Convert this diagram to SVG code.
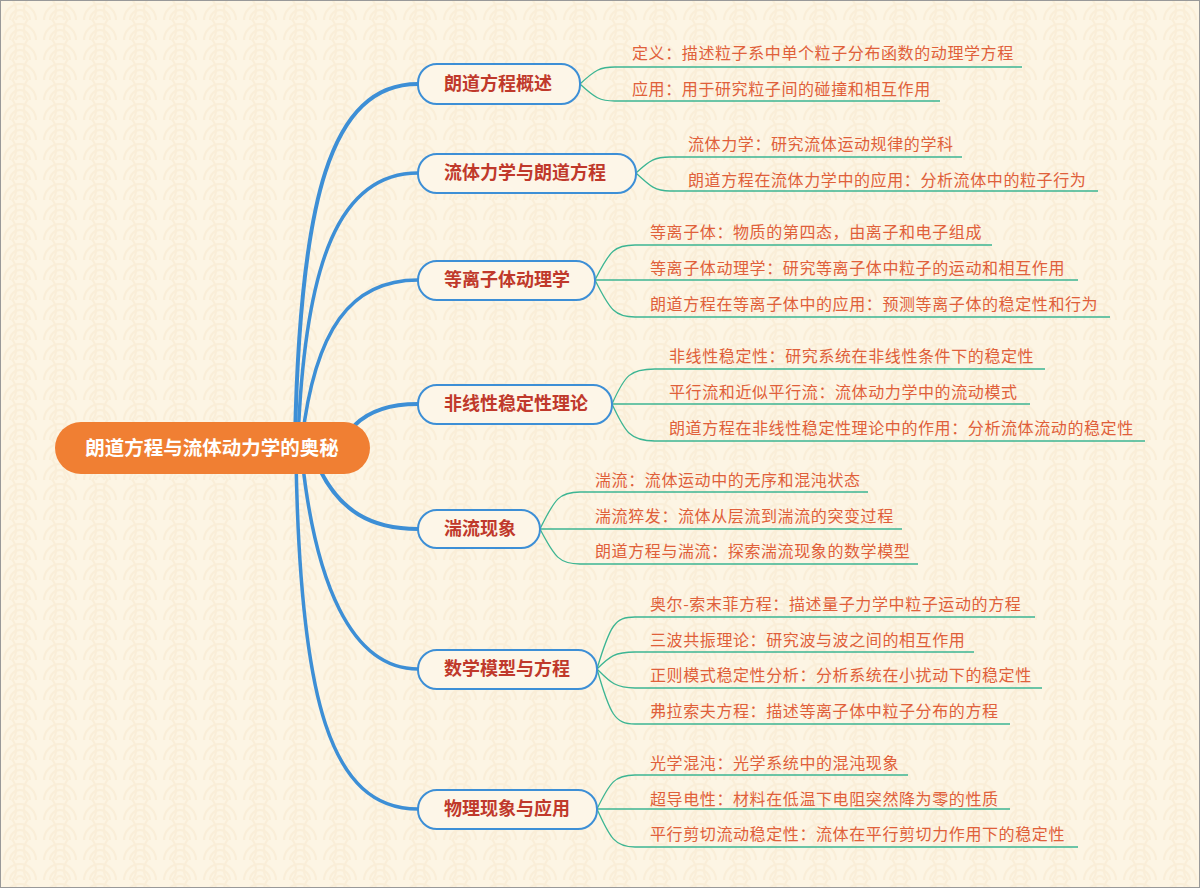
<svg xmlns="http://www.w3.org/2000/svg" width="1200" height="888" viewBox="0 0 1200 888">
<defs>
<pattern id="wave" width="40" height="20" patternUnits="userSpaceOnUse">
<rect width="40" height="20" fill="#fdf5e4"/>
<g fill="none" stroke="#faeed8" stroke-width="2">
<circle cx="20" cy="20" r="16"/><circle cx="20" cy="20" r="10"/><circle cx="20" cy="20" r="4"/>
<circle cx="0" cy="10" r="16"/><circle cx="40" cy="10" r="16"/>
</g>
</pattern>
<style>
.b{fill:none;stroke:#3d8fd6;stroke-linecap:round}
.l{fill:none;stroke:#3cb593;stroke-width:1.3}
.n rect{fill:#fdf6e8;stroke:#3d8fd6;stroke-width:2}
.n text{font-family:"Noto Sans CJK SC","Noto Sans",sans-serif;font-size:18px;font-weight:bold;fill:#c0392b}
.t{font-family:"Noto Sans CJK SC","Noto Sans",sans-serif;font-size:16px;letter-spacing:0.6px;fill:#e0603a}
</style>
</defs>
<rect width="1200" height="888" fill="url(#wave)"/>
<rect x="0.5" y="0.5" width="1199" height="887" fill="none" stroke="#999"/>
<g id="connectors">
<path class="b" stroke-width="4" d="M295 440 C300 200 330 84 418 84"/>
<path class="b" stroke-width="3.5" d="M298 440 C305 260 340 173 418 173"/>
<path class="b" stroke-width="3.5" d="M302 440 C315 330 350 280 418 280"/>
<path class="b" stroke-width="4" d="M355 425 C370 410 390 404 418 404"/>
<path class="b" stroke-width="4" d="M320 470 C340 510 370 529 418 529"/>
<path class="b" stroke-width="3.5" d="M302 458 C315 580 350 669 418 669"/>
<path class="b" stroke-width="3.5" d="M296 458 C300 700 330 809 418 809"/>
<g>
<path class="l" d="M580 84 C595 70 600 67 615 67 H1022"/><path class="l" d="M580 84 C595 98 600 101 615 101 H940"/>
<path class="l" d="M636 173 C650 160 655 157 670 157 H962"/><path class="l" d="M636 173 C650 186 655 191 670 191 H1098"/>
<path class="l" d="M595 280 C610 250 615 245 635 245 H992"/><path class="l" d="M595 280 H1078"/><path class="l" d="M595 280 C610 310 615 317 635 317 H1110"/>
<path class="l" d="M612 404 C625 375 630 369 655 369 H1045"/><path class="l" d="M612 404 H1030"/><path class="l" d="M612 404 C625 432 630 441 655 441 H1145"/>
<path class="l" d="M540 529 C555 498 560 492 580 492 H868"/><path class="l" d="M540 529 H902"/><path class="l" d="M540 529 C555 558 560 564 580 564 H918"/>
<path class="l" d="M597 669 C610 625 615 617 635 617 H1035"/><path class="l" d="M597 669 C610 656 615 652 635 652 H974"/><path class="l" d="M597 669 C610 682 615 688 635 688 H1042"/><path class="l" d="M597 669 C610 715 615 724 635 724 H1010"/>
<path class="l" d="M597 809 C610 782 615 775 635 775 H908"/><path class="l" d="M597 809 H1010"/><path class="l" d="M597 809 C610 838 615 847 635 847 H1078"/>
</g>
</g>
<g id="root"><rect x="55" y="422" width="315" height="52" rx="26" fill="#f07f33"/><text x="212" y="455" text-anchor="middle" font-family="'Noto Sans CJK SC','Noto Sans',sans-serif" font-size="19.5" font-weight="bold" fill="#fff">朗道方程与流体动力学的奥秘</text></g>
<g id="n1" class="n"><rect x="418" y="64" width="162" height="40" rx="19"/><text x="444" y="90">朗道方程概述</text></g>
<g id="n2" class="n"><rect x="418" y="154" width="218" height="39" rx="19"/><text x="444" y="179">流体力学与朗道方程</text></g>
<g id="n3" class="n"><rect x="418" y="261" width="177" height="39" rx="19"/><text x="444" y="286">等离子体动理学</text></g>
<g id="n4" class="n"><rect x="418" y="385" width="194" height="39" rx="19"/><text x="444" y="410">非线性稳定性理论</text></g>
<g id="n5" class="n"><rect x="418" y="510" width="122" height="38" rx="19"/><text x="444" y="535">湍流现象</text></g>
<g id="n6" class="n"><rect x="418" y="650" width="179" height="39" rx="19"/><text x="444" y="675">数学模型与方程</text></g>
<g id="n7" class="n"><rect x="418" y="790" width="179" height="39" rx="19"/><text x="444" y="815">物理现象与应用</text></g>
<g id="leaves">
<text class="t" x="632" y="59">定义：描述粒子系中单个粒子分布函数的动理学方程</text>
<text class="t" x="632" y="95">应用：用于研究粒子间的碰撞和相互作用</text>
<text class="t" x="688" y="150">流体力学：研究流体运动规律的学科</text>
<text class="t" x="688" y="186">朗道方程在流体力学中的应用：分析流体中的粒子行为</text>
<text class="t" x="650" y="238">等离子体：物质的第四态，由离子和电子组成</text>
<text class="t" x="650" y="274">等离子体动理学：研究等离子体中粒子的运动和相互作用</text>
<text class="t" x="650" y="310">朗道方程在等离子体中的应用：预测等离子体的稳定性和行为</text>
<text class="t" x="669" y="362">非线性稳定性：研究系统在非线性条件下的稳定性</text>
<text class="t" x="669" y="398">平行流和近似平行流：流体动力学中的流动模式</text>
<text class="t" x="669" y="434">朗道方程在非线性稳定性理论中的作用：分析流体流动的稳定性</text>
<text class="t" x="595" y="486">湍流：流体运动中的无序和混沌状态</text>
<text class="t" x="595" y="522">湍流猝发：流体从层流到湍流的突变过程</text>
<text class="t" x="595" y="557">朗道方程与湍流：探索湍流现象的数学模型</text>
<text class="t" x="650" y="610">奥尔-索末菲方程：描述量子力学中粒子运动的方程</text>
<text class="t" x="650" y="646">三波共振理论：研究波与波之间的相互作用</text>
<text class="t" x="650" y="681">正则模式稳定性分析：分析系统在小扰动下的稳定性</text>
<text class="t" x="650" y="717">弗拉索夫方程：描述等离子体中粒子分布的方程</text>
<text class="t" x="650" y="769">光学混沌：光学系统中的混沌现象</text>
<text class="t" x="650" y="805">超导电性：材料在低温下电阻突然降为零的性质</text>
<text class="t" x="650" y="840">平行剪切流动稳定性：流体在平行剪切力作用下的稳定性</text>
</g>
</svg>
